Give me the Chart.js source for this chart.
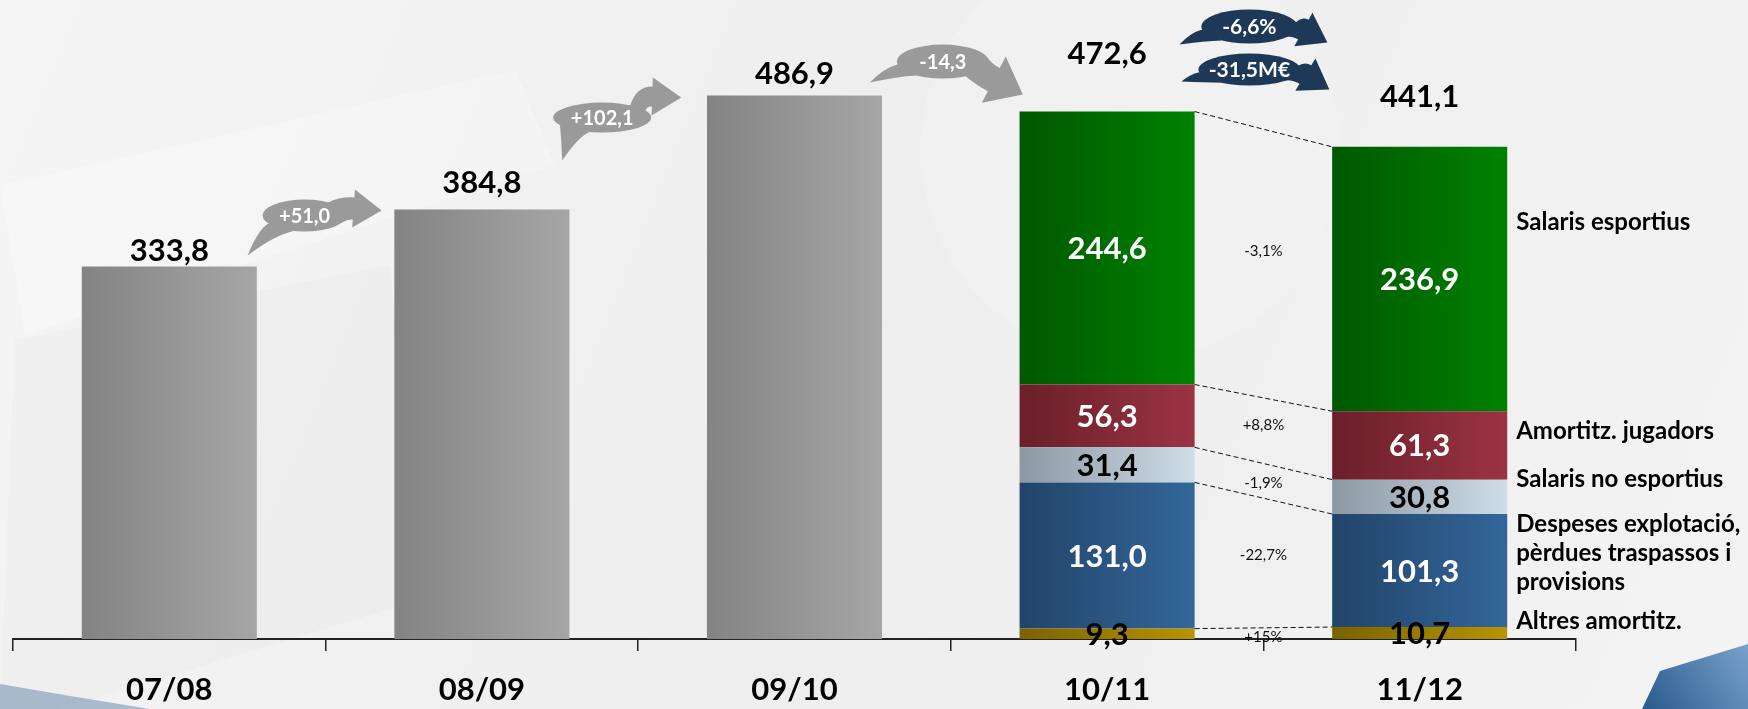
<!DOCTYPE html>
<html>
<head>
<meta charset="utf-8">
<script src="https://cdn.jsdelivr.net/npm/chart.js@4.4.0/dist/chart.umd.min.js"></script>
<style>
  html, body { margin: 0; padding: 0; background: #f0f0f0; }
  #wrap { width: 1748px; height: 709px; }
</style>
</head>
<body>
<div id="wrap"><canvas id="chart" width="1748" height="709"></canvas></div>
<script>
// seasons and values (M€)
const seasons = ["07/08", "08/09", "09/10", "10/11", "11/12"];
const totals = [333.8, 384.8, 486.9, 472.6, 441.1];
const grayTotals = [333.8, 384.8, 486.9, null, null];
// breakdown, bottom to top
const altresAmortitz = [null, null, null, 9.3, 10.7];
const despeses = [null, null, null, 131.0, 101.3];
const salarisNoEsportius = [null, null, null, 31.4, 30.8];
const amortitzJugadors = [null, null, null, 56.3, 61.3];
const salarisEsportius = [null, null, null, 244.6, 236.9];
const segmentNames = [
  ["Altres amortitz."],
  ["Despeses explotació,", "pèrdues traspassos i", "provisions"],
  ["Salaris no esportius"],
  ["Amortitz. jugadors"],
  ["Salaris esportius"],
];
const segmentChange = ["+15%", "-22,7%", "-1,9%", "+8,8%", "-3,1%"];
const yearChanges = ["+51,0", "+102,1", "-14,3"];
const lastChange = ["-6,6%", "-31,5M€"];

const FONT = "Lato, 'Open Sans', sans-serif";
const BAR_PCT = 0.56;

const fmt = v => v.toFixed(1).replace(".", ",");

function barGradient(dark, light) {
  return ctx => {
    const chart = ctx.chart;
    const x = chart.scales && chart.scales.x;
    if (!x || ctx.dataIndex == null || !x.width) return light;
    const cx = x.getPixelForValue(ctx.dataIndex);
    const w = (x.width / seasons.length) * BAR_PCT;
    const g = chart.ctx.createLinearGradient(cx - w / 2, 0, cx + w / 2, 0);
    g.addColorStop(0, dark);
    g.addColorStop(1, light);
    return g;
  };
}

function poly(c, pts) {
  c.beginPath();
  c.moveTo(pts[0][0], pts[0][1]);
  for (let i = 1; i < pts.length; i++) c.lineTo(pts[i][0], pts[i][1]);
  c.closePath();
  c.fill();
}

const backgroundPlugin = {
  id: "bg",
  beforeDraw(chart) {
    const c = chart.ctx, W = chart.width, H = chart.height;
    c.save();
    const g = c.createLinearGradient(0, 0, W, H);
    g.addColorStop(0, "#f5f5f5");
    g.addColorStop(0.5, "#eeeeee");
    g.addColorStop(1, "#f3f3f3");
    c.fillStyle = g;
    c.fillRect(0, 0, W, H);
    // faint shapes
    c.fillStyle = "rgba(255,255,255,0.25)";
    poly(c, [[0, 185], [515, 70], [555, 165], [25, 335]]);
    c.fillStyle = "rgba(225,225,225,0.2)";
    poly(c, [[15, 340], [390, 265], [420, 600], [60, 709], [0, 709]]);
    c.fillStyle = "rgba(255,255,255,0.12)";
    c.beginPath();
    c.arc(1130, 150, 210, 0, Math.PI * 2);
    c.fill();
    // bottom left wedge
    c.fillStyle = "rgba(110,140,175,0.55)";
    poly(c, [[0, 684], [70, 696], [150, 709], [0, 709]]);
    // bottom right blue block
    const gb = c.createLinearGradient(1650, 709, 1748, 640);
    gb.addColorStop(0, "#2d5d90");
    gb.addColorStop(1, "#7aa4cd");
    c.fillStyle = gb;
    poly(c, [[1660, 671], [1748, 644], [1748, 709], [1642, 709]]);
    c.restore();
  },
};

function ellipsePoint(e, deg) {
  const a = (deg * Math.PI) / 180;
  return [e.cx + e.rx * Math.cos(a), e.cy + e.ry * Math.sin(a)];
}

// speech-bubble arrow: ellipse + tail on the left + curved shaft with head
function drawArrow(c, o) {
  c.save();
  c.fillStyle = o.color;
  const e = o;
  c.beginPath();
  c.ellipse(e.cx, e.cy, e.rx, e.ry, 0, 0, Math.PI * 2);
  c.fill();

  // tail
  const p1 = ellipsePoint(e, o.tailA[0]);
  const p2 = ellipsePoint(e, o.tailA[1]);
  const t = o.tail;
  c.beginPath();
  c.moveTo(p1[0], p1[1]);
  c.quadraticCurveTo(t[0] + 0.5 * (p1[0] - t[0]), p1[1] + 0.2 * (t[1] - p1[1]), t[0], t[1]);
  c.quadraticCurveTo(t[0] + 0.6 * (p2[0] - t[0]), p2[1] + 0.15 * (t[1] - p2[1]), p2[0], p2[1]);
  c.closePath();
  c.fill();

  // shaft + head
  const M = o.base, T = o.tip;
  let ux = T[0] - M[0], uy = T[1] - M[1];
  const ul = Math.hypot(ux, uy);
  ux /= ul; uy /= ul;
  const nx = -uy, ny = ux;
  const s1 = ellipsePoint(e, o.shaftA[0]);
  const s2 = ellipsePoint(e, o.shaftA[1]);
  const bu = [M[0] - nx * o.sw, M[1] - ny * o.sw];
  const bl = [M[0] + nx * o.sw, M[1] + ny * o.sw];
  const L1 = Math.hypot(bu[0] - s1[0], bu[1] - s1[1]);
  const L2 = Math.hypot(bl[0] - s2[0], bl[1] - s2[1]);
  c.beginPath();
  c.moveTo(s1[0], s1[1]);
  c.quadraticCurveTo(bu[0] - ux * L1 * 0.55, bu[1] - uy * L1 * 0.55, bu[0], bu[1]);
  c.lineTo(M[0] - nx * o.hw, M[1] - ny * o.hw);
  c.lineTo(T[0], T[1]);
  c.lineTo(M[0] + nx * o.hw, M[1] + ny * o.hw);
  c.lineTo(bl[0], bl[1]);
  c.quadraticCurveTo(bl[0] - ux * L2 * 0.55, bl[1] - uy * L2 * 0.55, s2[0], s2[1]);
  c.lineTo(e.cx, e.cy);
  c.closePath();
  c.fill();

  c.fillStyle = "#ffffff";
  c.font = "bold " + o.size + "px " + FONT;
  c.textAlign = "center";
  c.textBaseline = "middle";
  c.fillText(o.text, e.cx, e.cy + 1);
  c.restore();
}

function rel(o, ox, oy) {
  return {
    ...o,
    cx: ox + o.e[0], cy: oy + o.e[1],
    tail: [ox + o.tl[0], oy + o.tl[1]],
    tip: [ox + o.tp[0], oy + o.tp[1]],
    base: [ox + o.bs[0], oy + o.bs[1]],
  };
}

const labelsPlugin = {
  id: "labels",
  afterDatasetsDraw(chart) {
    const c = chart.ctx;
    const x = chart.scales.x, y = chart.scales.y;
    c.save();
    c.textAlign = "center";
    c.textBaseline = "middle";

    // totals above the bars
    const totalLift = [15, 27, 22, 58, 50];
    c.fillStyle = "#000";
    c.font = "bold 31px " + FONT;
    totals.forEach((v, i) => {
      c.fillText(fmt(v), x.getPixelForValue(i), y.getPixelForValue(v) - totalLift[i]);
    });

    // segments: values, dashed connectors, % changes, names
    const segs = [altresAmortitz, despeses, salarisNoEsportius, amortitzJugadors, salarisEsportius];
    const darkText = [true, false, true, false, false];
    const pctShift = [3, 0, 18, 9, 3];
    const nameShift = [-11.5, -46.5, -18, -14, -57];
    segs.forEach((arr, k) => {
      const meta = chart.getDatasetMeta(k + 1);
      const a = meta.data[3], b = meta.data[4];

      c.fillStyle = darkText[k] ? "#000" : "#fff";
      c.font = "bold 31px " + FONT;
      [a, b].forEach((el, j) => {
        c.fillText(fmt(arr[3 + j]), el.x, (el.y + el.base) / 2 + 1);
      });

      c.strokeStyle = "#111";
      c.lineWidth = 1;
      c.setLineDash([5, 3]);
      c.beginPath();
      c.moveTo(a.x + a.width / 2, a.y);
      c.lineTo(b.x - b.width / 2, b.y);
      c.stroke();
      c.setLineDash([]);

      c.fillStyle = "#111";
      c.font = "15px " + FONT;
      c.fillText(segmentChange[k], (a.x + b.x) / 2, (a.y + a.base) / 2 + pctShift[k]);

      c.fillStyle = "#000";
      c.font = "bold 24px " + FONT;
      c.textAlign = "left";
      segmentNames[k].forEach((line, li) => {
        c.fillText(line, b.x + b.width / 2 + 9, (b.y + b.base) / 2 + nameShift[k] + li * 29);
      });
      c.textAlign = "center";
    });
    c.restore();

    // change arrows between bars
    const gray = "#9a9a9a", navy = "#1e3957";
    const specs = [
      { text: yearChanges[0], e: [-21, -51], rx: 42, ry: 16, tl: [-78, -11], tp: [56, -56], bs: [28, -58], hw: 19, sw: 11, tailA: [150, 105], shaftA: [-55, 25], size: 20, color: gray },
      { text: yearChanges[1], e: [-36, -92], rx: 49, ry: 15, tl: [-76, -49], tp: [43, -112], bs: [14, -113], hw: 19, sw: 10, tailA: [150, 105], shaftA: [-55, 25], size: 20, color: gray },
      { text: yearChanges[2], e: [-8, -34], rx: 46, ry: 17, tl: [-81, -13], tp: [72, -1], bs: [43, -16], hw: 26, sw: 13, tailA: [170, 125], shaftA: [-15, 60], size: 20, color: gray },
    ];
    for (let i = 0; i < 3; i++) {
      const ox = (x.getPixelForValue(i) + x.getPixelForValue(i + 1)) / 2;
      const oy = y.getPixelForValue(totals[i]);
      drawArrow(chart.ctx, rel(specs[i], ox, oy));
    }
    const ox = (x.getPixelForValue(3) + x.getPixelForValue(4)) / 2;
    const oy = y.getPixelForValue(totals[3]);
    const navySpecs = [
      { text: lastChange[0], e: [-14, -85], rx: 48, ry: 17, tl: [-84, -67], tp: [64, -69], bs: [40, -82], hw: 19, sw: 11, tailA: [170, 125], shaftA: [-15, 60], size: 21, color: navy },
      { text: lastChange[1], e: [-14, -42], rx: 51, ry: 16, tl: [-82, -30], tp: [66, -22], bs: [42, -37], hw: 19, sw: 11, tailA: [170, 125], shaftA: [-15, 60], size: 21, color: navy },
    ];
    navySpecs.forEach(s => drawArrow(chart.ctx, rel(s, ox, oy)));
  },
};

const common = { barPercentage: BAR_PCT, categoryPercentage: 1.0, borderWidth: 0, stack: "s" };

new Chart(document.getElementById("chart"), {
  type: "bar",
  data: {
    labels: seasons,
    datasets: [
      { ...common, label: "Total", data: grayTotals, backgroundColor: barGradient("#838383", "#a6a6a6") },
      { ...common, label: "Altres amortitz.", data: altresAmortitz, backgroundColor: barGradient("#7a6200", "#b89400") },
      { ...common, label: "Despeses explotació", data: despeses, backgroundColor: barGradient("#22446a", "#33669a") },
      { ...common, label: "Salaris no esportius", data: salarisNoEsportius, backgroundColor: barGradient("#8b97a3", "#cfdde9") },
      { ...common, label: "Amortitz. jugadors", data: amortitzJugadors, backgroundColor: barGradient("#6a1f2a", "#9b3343") },
      { ...common, label: "Salaris esportius", data: salarisEsportius, backgroundColor: barGradient("#005800", "#008200") },
    ],
  },
  options: {
    responsive: false,
    devicePixelRatio: 1,
    animation: false,
    layout: { padding: { left: 13, right: 172, top: 14, bottom: 0 } },
    plugins: { legend: { display: false }, tooltip: { enabled: false } },
    scales: {
      x: {
        stacked: true,
        offset: true,
        grid: { display: true, drawOnChartArea: false, drawTicks: true, tickLength: 12, color: "#222", lineWidth: 1.5 },
        border: { display: true, color: "#222", width: 2 },
        ticks: { color: "#000", padding: 20, font: { family: FONT, size: 31, weight: "bold" } },
        afterFit: s => { s.height = 70; },
      },
      y: { stacked: true, display: false, min: 0, max: 560 },
    },
  },
  plugins: [backgroundPlugin, labelsPlugin],
});
</script>
</body>
</html>
